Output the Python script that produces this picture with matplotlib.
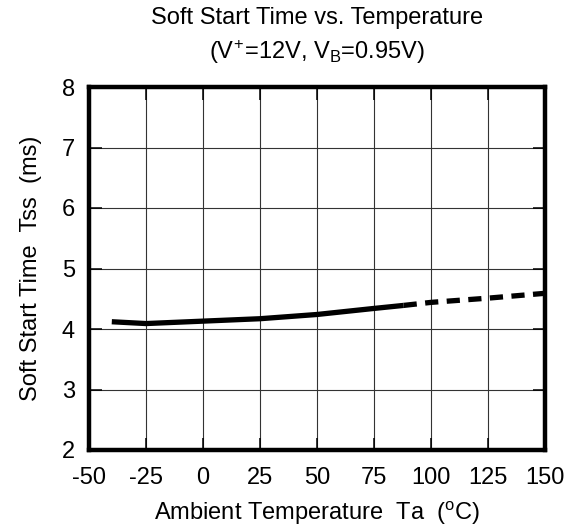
import matplotlib
matplotlib.use("Agg")
import matplotlib.pyplot as plt

plt.rcParams['font.family'] = ['Liberation Sans', 'DejaVu Sans']

temp_solid = [-40, -25, 0, 25, 50, 75, 88]
tss_solid = [4.12, 4.09, 4.13, 4.17, 4.24, 4.34, 4.39]
temp_dash = [88, 100, 125, 150]
tss_dash = [4.39, 4.44, 4.51, 4.59]

xticks = [-50, -25, 0, 25, 50, 75, 100, 125, 150]
yticks = [2, 3, 4, 5, 6, 7, 8]

W, H = 577, 532
L, R, T, B = 89, 545, 87, 450
fig = plt.figure(figsize=(W/100, H/100), dpi=100)
ax = fig.add_axes([L/W, 1-B/H, (R-L)/W, (B-T)/H])

ax.plot(temp_solid, tss_solid, color='black', lw=3.8, solid_capstyle='butt', zorder=3)
ax.plot(temp_dash, tss_dash, color='black', lw=3.8, dashes=(2.5, 1.6), dash_capstyle='butt', zorder=3)

ax.set_xlim(-50, 150)
ax.set_ylim(2, 8)
ax.set_xticks(xticks)
ax.set_yticks(yticks)
ax.set_xticklabels([str(v) for v in xticks])
ax.set_yticklabels([str(v) for v in yticks])
ax.grid(True, color='#333333', lw=0.8)
ax.tick_params(direction='in', length=9, width=1.1, labelsize=17, top=True, right=True)
ax.tick_params(axis='x', pad=12)
ax.tick_params(axis='y', pad=10)
for s in ax.spines.values():
    s.set_linewidth(3.2)

ax.set_xlabel('Ambient Temperature  Ta  ($\\mathregular{^o}$C)', fontsize=17, labelpad=8)
ax.set_ylabel('Soft Start Time  Tss  (ms)', fontsize=17, labelpad=14)
cx = (L + R) / 2 / W
fig.text(cx, 1-18/H, 'Soft Start Time vs. Temperature', ha='center', va='center', fontsize=17)
fig.text(cx, 1-52/H, '(V$\\mathregular{^{\\!+\\!}}$=12V, V$\\mathregular{_B}$=0.95V)', ha='center', va='center', fontsize=17)

fig.savefig('out.png', dpi=100)
